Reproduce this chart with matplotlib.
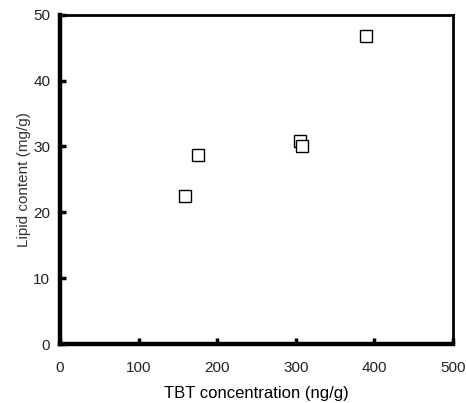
import matplotlib
matplotlib.use("Agg")
import matplotlib.pyplot as plt

# TBT concentration (ng/g) vs lipid content (mg/g)
tbt_conc = [159, 176, 305, 308, 389]
lipid = [22.4, 28.7, 30.8, 30.0, 46.8]

x_ticks = [0, 100, 200, 300, 400, 500]
y_ticks = [0, 10, 20, 30, 40, 50]

plt.rcParams['font.family'] = ['Liberation Sans', 'DejaVu Sans']

fig = plt.figure(figsize=(4.66, 4.03), dpi=100)
ax = fig.add_axes([0.1288, 0.1464, 0.8432, 0.8171])

ax.plot(tbt_conc, lipid, linestyle='none', marker='s', markersize=8.5,
        markerfacecolor='white', markeredgecolor='black', markeredgewidth=1.0)

ax.set_xlim(0, 500)
ax.set_ylim(0, 50)
ax.set_xticks(x_ticks)
ax.set_yticks(y_ticks)
ax.tick_params(direction='in', length=4, width=2.5, labelsize=11,
               colors='black', labelcolor='#222222')
ax.tick_params(axis='x', pad=12)
ax.tick_params(axis='y', pad=7)

for side in ('left', 'bottom'):
    ax.spines[side].set_linewidth(3.2)
for side in ('top', 'right'):
    ax.spines[side].set_linewidth(2.0)

ax.set_xlabel('TBT concentration (ng/g)', fontsize=12, labelpad=8)
ax.set_ylabel('Lipid content (mg/g)', fontsize=11, color='#333333', labelpad=2)

fig.savefig('out.png', dpi=100)
